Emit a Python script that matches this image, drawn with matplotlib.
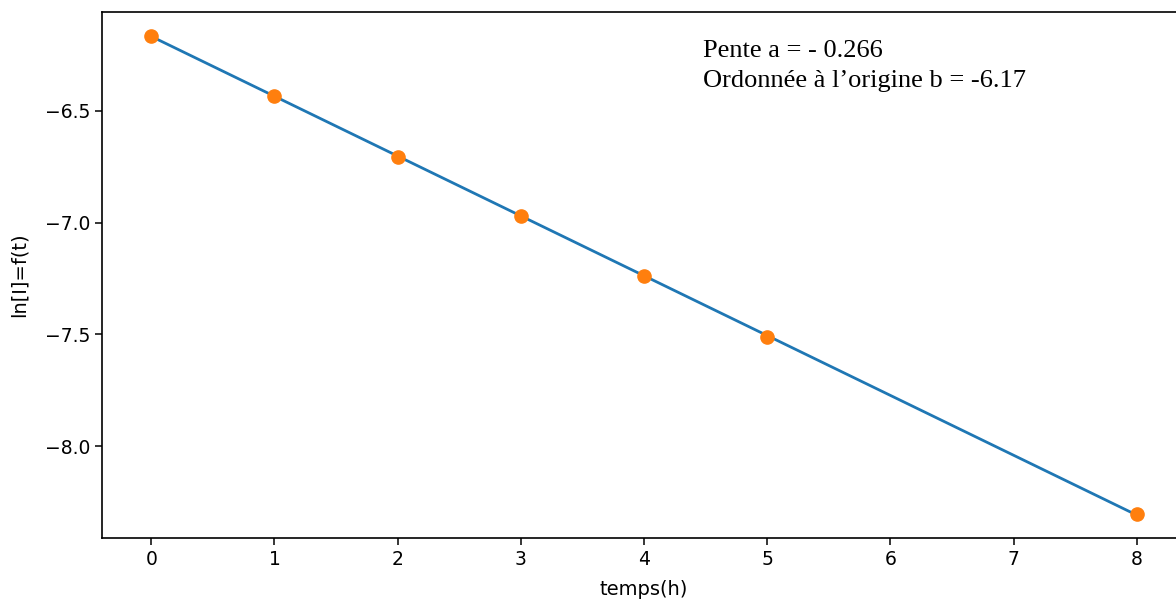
import matplotlib
matplotlib.use("Agg")
import matplotlib.pyplot as plt
import numpy as np

# Data
temps_h = [0, 1, 2, 3, 4, 5, 8]
ln_I = [-6.165, -6.433, -6.705, -6.969, -7.237, -7.513, -8.304]
x_ticks = [0, 1, 2, 3, 4, 5, 6, 7, 8]
y_ticks = [-6.5, -7.0, -7.5, -8.0]
annotation_lines = ["Pente a = - 0.266", "Ordonnée à l\u2019origine b = -6.17"]

fig = plt.figure(figsize=(11.76, 6.05), dpi=100)
ax = fig.add_axes([102 / 1176, 67 / 605, (1186 - 102) / 1176, (538 - 12) / 605])

# fitted line through the data (least squares, like the regression shown)
coef = np.polyfit(temps_h, ln_I, 1)
ax.plot(temps_h, np.polyval(coef, temps_h), color="#1f77b4", linewidth=2.0, zorder=2)
ax.plot(temps_h, ln_I, "o", color="#ff7f0e", markersize=9.5, zorder=3)

ax.set_xlim(-0.4, 8.4)
ax.set_ylim(-8.411, -6.058)
ax.set_xticks(x_ticks)
ax.set_yticks(y_ticks)
ax.tick_params(labelsize=13.5, length=5, width=1.1)
for s in ax.spines.values():
    s.set_linewidth(1.2)
ax.set_xlabel("temps(h)", fontsize=14, labelpad=8)
ax.set_ylabel("ln[I]=f(t)", fontsize=14, labelpad=12)

fig.text(703 / 1176, 1 - 57.3 / 605, annotation_lines[0], family="Liberation Serif",
         fontsize=19, va="baseline", ha="left")
fig.text(703 / 1176, 1 - 87 / 605, annotation_lines[1], family="Liberation Serif",
         fontsize=19, va="baseline", ha="left")

fig.savefig("out.png", dpi=100)
